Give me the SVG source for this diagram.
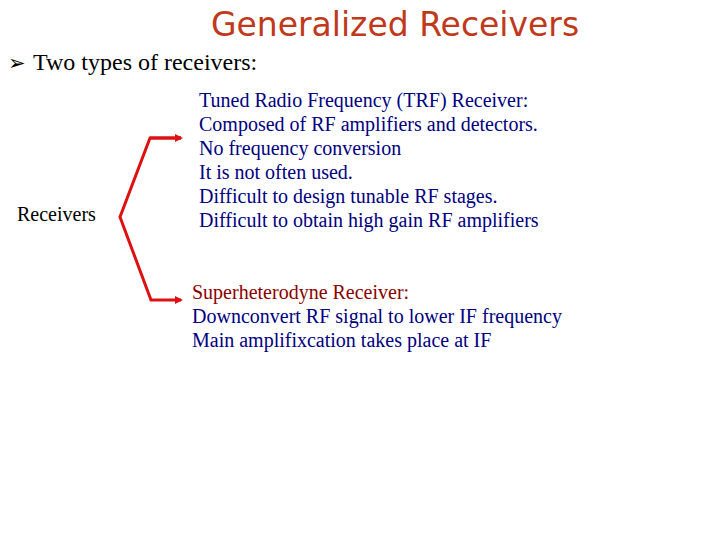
<svg xmlns="http://www.w3.org/2000/svg" width="720" height="540" viewBox="0 0 720 540">
<style>
.t{font-family:"Liberation Serif",serif;font-size:20px}
.b{fill:#000080}.r{fill:#8b0000}
</style>
<defs><marker id="a" markerWidth="8" markerHeight="8" refX="6" refY="4" orient="auto" markerUnits="userSpaceOnUse"><path d="M0,0L8,4L0,8z" fill="#dd1111"/></marker></defs>
<rect width="720" height="540" fill="#fff"/>
<text x="395" y="36" text-anchor="middle" font-family="'DejaVu Sans',sans-serif" font-size="33" fill="#c0391b">Generalized Receivers</text>
<text x="8" y="70" font-family="'DejaVu Sans',sans-serif" font-size="21">➢</text>
<text x="33" y="70" class="t" style="font-size:24px">Two types of receivers:</text>
<g id="receivers"><text x="17" y="221" class="t">Receivers</text></g>
<g id="connectors" fill="none" stroke="#dd1111" stroke-width="3">
<polyline points="181,138 150,138 120,217 151,300 181,300" marker-end="url(#a)"/>
<path d="M150,138H181" marker-end="url(#a)"/>
</g>
<g id="trf" class="t b">
<text x="199" y="107">Tuned Radio Frequency (TRF) Receiver:</text>
<text x="199" y="131">Composed of RF amplifiers and detectors.</text>
<text x="199" y="155">No frequency conversion</text>
<text x="199" y="179">It is not often used.</text>
<text x="199" y="203">Difficult to design tunable RF stages.</text>
<text x="199" y="227">Difficult to obtain high gain RF amplifiers</text>
</g>
<g id="super" class="t b">
<text x="192" y="299" class="r">Superheterodyne Receiver:</text>
<text x="192" y="323">Downconvert RF signal to lower IF frequency</text>
<text x="192" y="347">Main amplifixcation takes place at IF</text>
</g>
</svg>
